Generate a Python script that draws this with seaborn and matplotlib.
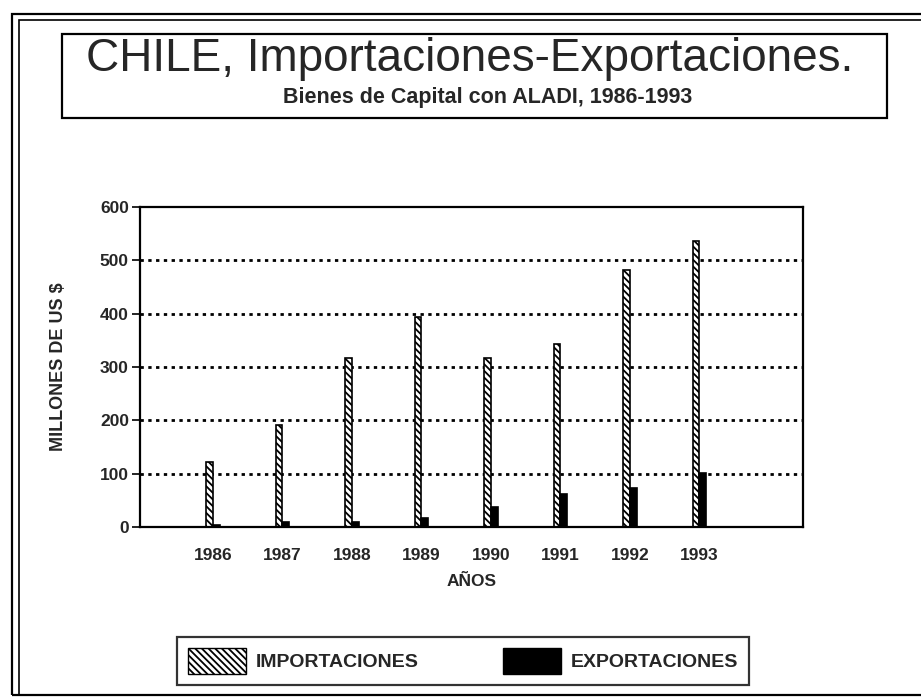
import pandas as pd
import matplotlib.pyplot as plt
import numpy as np
import seaborn as sns
from matplotlib.patches import Rectangle, Patch

# datos (millones de US$)
years = ['1986', '1987', '1988', '1989', '1990', '1991', '1992', '1993']
importaciones = [121, 192, 316, 393, 317, 343, 481, 537]
exportaciones = [4, 9, 10, 17, 37, 62, 73, 102]
series = ['IMPORTACIONES', 'EXPORTACIONES']
y_ticks = [0, 100, 200, 300, 400, 500, 600]

df = pd.DataFrame({
    'anio': years * 2,
    'valor': importaciones + exportaciones,
    'serie': [series[0]] * len(years) + [series[1]] * len(years),
})

sns.set_style('white')
plt.rcParams['font.family'] = ['Liberation Sans', 'DejaVu Sans']
plt.rcParams['hatch.linewidth'] = 1.3

W, H = 921, 698
fig = plt.figure(figsize=(W / 100, H / 100), dpi=100)

def fx(px):
    return px / W

def fy(py):
    return 1 - py / H

ax = fig.add_axes([fx(140), fy(527), fx(803) - fx(140), fy(207) - fy(527)])

sns.barplot(data=df, x='anio', y='valor', hue='serie', palette=['white', 'black'],
            width=0.2, gap=0, edgecolor='black', linewidth=1.2, ax=ax, legend=False)

# primeras barras = importaciones, con trama
for p in ax.patches[:len(years)]:
    p.set_hatch('\\\\\\\\\\')

ax.set_xlim(-1.05, 8.49)
ax.set_ylim(0, 600)
ax.set_yticks(y_ticks)
ax.set_yticklabels([str(v) for v in y_ticks], fontsize=12.5, fontweight='bold')
ax.set_xticks(range(len(years)))
ax.set_xticklabels(years, fontsize=12.5, fontweight='bold')
ax.tick_params(axis='x', length=0, pad=15)
ax.set_xticks([-1.05] + [i + 0.7 for i in range(7)] + [8.49], minor=True)
ax.tick_params(axis='x', which='minor', length=6, width=1.2, color='black', direction='out')
ax.tick_params(axis='y', length=6, width=1.2, color='black', direction='out', left=True, pad=2)

for v in y_ticks[1:-1]:
    ax.axhline(v, color='black', linestyle=(0, (1.2, 1.6)), linewidth=2.0, zorder=0)

for s in ax.spines.values():
    s.set_color('black')
    s.set_linewidth(1.6)

ax.set_xlabel('AÑOS', fontsize=12.5, fontweight='bold', labelpad=8)
ax.set_ylabel('MILLONES DE US $', fontsize=13, fontweight='bold')
ax.yaxis.set_label_coords(-0.11, 0.5)

# marco exterior doble
fig.patches.append(Rectangle((fx(12), fy(695)), fx(930) - fx(12), fy(14) - fy(695),
                             transform=fig.transFigure, fill=False, edgecolor='black', linewidth=1.6))
fig.patches.append(Rectangle((fx(19), fy(695)), fx(930) - fx(19), fy(20) - fy(695),
                             transform=fig.transFigure, fill=False, edgecolor='black', linewidth=1.2))

# recuadro del titulo
fig.patches.append(Rectangle((fx(62), fy(118)), fx(887) - fx(62), fy(34) - fy(118),
                             transform=fig.transFigure, fill=False, edgecolor='black', linewidth=1.6))
fig.text(fx(470), fy(59), 'CHILE, Importaciones-Exportaciones.', fontsize=33,
         ha='center', va='center')
fig.text(fx(488), fy(98), 'Bienes de Capital con ALADI, 1986-1993', fontsize=15.5,
         ha='center', va='center', fontweight='bold')

# leyenda
handles = [Patch(facecolor='white', edgecolor='black', hatch='\\\\\\\\\\', label=series[0]),
           Patch(facecolor='black', edgecolor='black', label=series[1])]
leg = fig.legend(handles=handles, loc='center', mode='expand',
                 bbox_to_anchor=(fx(177), fy(688), fx(749) - fx(177), fy(634) - fy(688)),
                 ncol=2, prop={'size': 14, 'weight': 'bold'}, frameon=True, fancybox=False,
                 edgecolor='black', handlelength=3.0, handleheight=1.7, handletextpad=0.5,
                 borderpad=0.55, borderaxespad=0)
leg.get_frame().set_linewidth(1.6)

fig.savefig('out.png', dpi=100)
